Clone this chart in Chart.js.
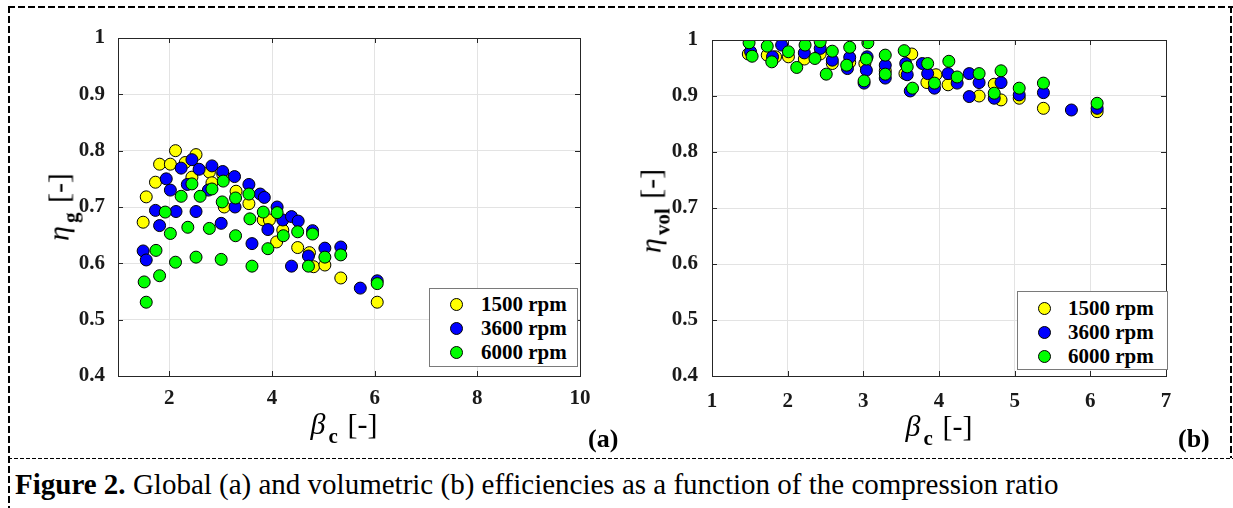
<!DOCTYPE html>
<html>
<head>
<meta charset="utf-8">
<script src="https://cdn.jsdelivr.net/npm/chart.js@4.4.1/dist/chart.umd.min.js"></script>
<style>
  html, body { margin: 0; padding: 0; background: #fff; }
  body { width: 1233px; height: 508px; position: relative; overflow: hidden; font-family: "Liberation Serif", "Times New Roman", serif; color: #000; }
  .panel { position: absolute; top: 0; }
  .dashH { position: absolute; height: 2px; background: repeating-linear-gradient(to right, #000 0 7px, transparent 7px 10px); }
  .dashV { position: absolute; width: 2px; background: repeating-linear-gradient(to bottom, #000 0 7px, transparent 7px 10px); }
  .dashThin { position: absolute; height: 1px; background: repeating-linear-gradient(to right, #000 0 4px, transparent 4px 6px); }
  .xtitle { position: absolute; font-size: 30px; line-height: 34px; white-space: nowrap; transform: translateX(-50%); }
  .ytitle { position: absolute; font-size: 30px; line-height: 34px; white-space: nowrap; transform: translate(-50%, -50%) rotate(-90deg); }
  .xtitle i, .ytitle i { font-style: italic; }
  .sub { font-weight: bold; font-size: 21px; position: relative; top: 9px; margin-left: 3px; margin-right: 2px; }
  .tag { position: absolute; font-weight: bold; font-size: 26px; }
  .legend { position: absolute; border: 1px solid #7a7a7a; background: #fff; box-sizing: border-box; }
  .legend .row { position: absolute; left: 0; height: 24px; line-height: 24px; font-weight: bold; font-size: 21px; white-space: nowrap; }
  .legend .dot { position: absolute; width: 11px; height: 11px; border-radius: 50%; border: 1px solid #000; top: 5.5px; }
  .legend .lbl { position: absolute; top: 0; }
  .caption { position: absolute; left: 15px; top: 468px; font-size: 29px; line-height: 33px; white-space: nowrap; }
</style>
</head>
<body>
<div class="dashH" style="left:8px; top:6px; width:1225px;"></div>
<div class="dashV" style="left:8px; top:6px; height:502px;"></div>
<div class="dashV" style="left:1230px; top:6px; height:452px;"></div>
<div class="dashThin" style="left:8px; top:458px; width:1225px;"></div>

<div class="panel" style="left:0; width:620px; height:460px;"><canvas id="chartA" width="620" height="460"></canvas></div>
<div class="panel" style="left:620px; width:613px; height:460px;"><canvas id="chartB" width="613" height="460"></canvas></div>

<div class="xtitle" style="left:344px; top:407px;"><i>β</i><span class="sub">c</span> [-]</div>
<div class="xtitle" style="left:939px; top:409px;"><i>β</i><span class="sub">c</span> [-]</div>
<div class="ytitle" style="left:60px; top:207px;"><i>η</i><span class="sub">g</span> [-]</div>
<div class="ytitle" style="left:652px; top:211px;"><i>η</i><span class="sub">vol</span> [-]</div>
<div class="tag" style="left:588px; top:424px;">(a)</div>
<div class="tag" style="left:1178px; top:424px;">(b)</div>

<div class="legend" id="legA" style="left:429px; top:288px; width:149px; height:79px;"></div>
<div class="legend" id="legB" style="left:1017px; top:291px; width:151px; height:79px;"></div>

<div class="caption"><b>Figure 2.</b> Global (a) and volumetric (b) efficiencies as a function of the compression ratio</div>

<script>
// ---------- data ----------
const seriesNames = ["1500 rpm", "3600 rpm", "6000 rpm"];
const seriesColors = ["#ffff00", "#0000ff", "#00ff00"];

const xTicksA = [2, 4, 6, 8, 10];
const xTicksB = [1, 2, 3, 4, 5, 6, 7];
const yTicks = [0.4, 0.5, 0.6, 0.7, 0.8, 0.9, 1];
const yTickLabels = ["0.4", "0.5", "0.6", "0.7", "0.8", "0.9", "1"];

// (a) global efficiency
const betaA1500 = [1.49, 1.55, 1.73, 1.81, 2.02, 2.12, 2.31, 2.44, 2.52, 2.78, 2.83, 3.04, 3.07, 3.30, 3.55, 3.83, 3.95, 4.09, 4.21, 4.50, 4.73, 4.81, 5.03, 5.34, 6.05];
const etaG1500 = [0.673, 0.718, 0.744, 0.776, 0.776, 0.800, 0.779, 0.753, 0.793, 0.762, 0.743, 0.758, 0.700, 0.728, 0.706, 0.677, 0.677, 0.638, 0.659, 0.628, 0.619, 0.594, 0.597, 0.574, 0.531];

const betaA3600 = [1.49, 1.55, 1.73, 1.81, 1.94, 2.02, 2.13, 2.23, 2.35, 2.44, 2.52, 2.58, 2.76, 2.83, 3.01, 3.04, 3.27, 3.28, 3.55, 3.61, 3.77, 3.85, 3.92, 4.10, 4.21, 4.38, 4.38, 4.51, 4.71, 4.79, 5.03, 5.34, 5.72, 6.05];
const etaG3600 = [0.622, 0.606, 0.694, 0.667, 0.750, 0.730, 0.692, 0.769, 0.740, 0.784, 0.692, 0.767, 0.730, 0.773, 0.671, 0.763, 0.754, 0.700, 0.740, 0.635, 0.723, 0.717, 0.660, 0.700, 0.677, 0.683, 0.595, 0.675, 0.613, 0.658, 0.627, 0.629, 0.556, 0.569];

const betaA6000 = [1.51, 1.55, 1.74, 1.81, 1.92, 2.02, 2.12, 2.23, 2.36, 2.44, 2.52, 2.60, 2.78, 2.83, 3.01, 3.03, 3.05, 3.29, 3.29, 3.55, 3.57, 3.61, 3.83, 3.92, 4.10, 4.22, 4.50, 4.71, 4.79, 5.03, 5.34, 6.05];
const etaG6000 = [0.567, 0.531, 0.623, 0.578, 0.691, 0.653, 0.602, 0.719, 0.664, 0.741, 0.611, 0.719, 0.662, 0.732, 0.607, 0.709, 0.746, 0.716, 0.649, 0.723, 0.679, 0.595, 0.691, 0.626, 0.690, 0.649, 0.656, 0.595, 0.652, 0.611, 0.615, 0.564];

// (b) volumetric efficiency
const betaB1500 = [1.48, 1.73, 1.84, 2.01, 2.22, 2.43, 2.59, 2.82, 3.02, 3.29, 3.55, 3.64, 3.84, 3.96, 4.12, 4.53, 4.73, 4.82, 5.06, 5.38, 6.09];
const etaV1500 = [0.975, 0.973, 0.970, 0.970, 0.966, 0.975, 0.958, 0.960, 0.958, 0.945, 0.940, 0.975, 0.924, 0.938, 0.920, 0.900, 0.921, 0.893, 0.896, 0.878, 0.872];

const betaB3600 = [1.51, 1.80, 1.92, 2.22, 2.43, 2.59, 2.79, 2.82, 3.01, 3.04, 3.05, 3.29, 3.29, 3.56, 3.58, 3.62, 3.78, 3.85, 3.94, 4.12, 4.24, 4.40, 4.40, 4.53, 4.73, 4.82, 5.06, 5.38, 5.75, 6.09];
const etaV3600 = [0.979, 0.970, 0.991, 0.977, 0.985, 0.964, 0.949, 0.969, 0.923, 0.946, 0.970, 0.955, 0.932, 0.958, 0.938, 0.909, 0.958, 0.940, 0.914, 0.940, 0.923, 0.940, 0.899, 0.924, 0.896, 0.924, 0.902, 0.906, 0.875, 0.878];

const betaB6000 = [1.49, 1.53, 1.73, 1.79, 2.01, 2.12, 2.23, 2.36, 2.43, 2.51, 2.59, 2.78, 2.82, 3.01, 3.04, 3.06, 3.29, 3.29, 3.54, 3.58, 3.65, 3.85, 3.94, 4.13, 4.24, 4.53, 4.73, 4.82, 5.06, 5.38, 6.09];
const etaV6000 = [0.995, 0.971, 0.989, 0.961, 0.979, 0.951, 0.991, 0.967, 0.997, 0.939, 0.980, 0.955, 0.987, 0.927, 0.966, 0.995, 0.973, 0.939, 0.981, 0.952, 0.914, 0.958, 0.923, 0.962, 0.934, 0.940, 0.905, 0.945, 0.914, 0.923, 0.887];

// ---------- helpers ----------
function pts(xs, ys) { return xs.map((x, i) => ({ x: x, y: ys[i] })); }

function makeDatasets(groups) {
  return groups.map((g, i) => ({
    label: seriesNames[i],
    data: pts(g[0], g[1]),
    backgroundColor: seriesColors[i],
    borderColor: "#000",
    borderWidth: 1,
    pointRadius: 6,
    pointHoverRadius: 6,
    order: 2 - i
  }));
}

const boxPlugin = {
  id: "boxPlugin",
  afterDatasetsDraw(chart) {
    const ctx = chart.ctx, a = chart.chartArea;
    const xs = chart.scales.x, ys = chart.scales.y;
    ctx.save();
    ctx.strokeStyle = "#262626";
    ctx.lineWidth = 1;
    ctx.beginPath();
    xs.ticks.forEach(t => {
      const px = Math.round(xs.getPixelForValue(t.value)) + 0.5;
      ctx.moveTo(px, a.bottom); ctx.lineTo(px, a.bottom - 5);
      ctx.moveTo(px, a.top); ctx.lineTo(px, a.top + 5);
    });
    ys.ticks.forEach(t => {
      const py = Math.round(ys.getPixelForValue(t.value)) + 0.5;
      ctx.moveTo(a.left, py); ctx.lineTo(a.left + 5, py);
      ctx.moveTo(a.right, py); ctx.lineTo(a.right - 5, py);
    });
    ctx.stroke();
    ctx.strokeRect(Math.round(a.left) + 0.5, Math.round(a.top) + 0.5, Math.round(a.right - a.left), Math.round(a.bottom - a.top));
    ctx.restore();
  }
};

function makeChart(id, datasets, xmin, xmax, xTicks, area, canvasW, canvasH, xPad, yPad) {
  return new Chart(document.getElementById(id), {
    type: "scatter",
    data: { datasets: datasets },
    options: {
      responsive: false,
      devicePixelRatio: 1,
      animation: false,
      layout: { padding: { top: area.top, right: canvasW - area.right, bottom: 0, left: 0 } },
      plugins: { legend: { display: false }, tooltip: { enabled: false } },
      scales: {
        x: {
          type: "linear", min: xmin, max: xmax,
          afterBuildTicks: s => { s.ticks = xTicks.map(v => ({ value: v })); },
          afterFit: s => { s.height = canvasH - area.bottom; },
          grid: { color: "#e3e3e3", drawTicks: false },
          border: { display: false },
          ticks: { color: "#1a1a1a", padding: xPad, font: { family: "'Liberation Serif'", size: 21, weight: "bold" }, callback: v => String(v) }
        },
        y: {
          type: "linear", min: 0.4, max: 1,
          afterBuildTicks: s => { s.ticks = yTicks.map(v => ({ value: v })); },
          afterFit: s => { s.width = area.left; },
          grid: { color: "#e3e3e3", drawTicks: false },
          border: { display: false },
          ticks: { color: "#1a1a1a", padding: yPad, font: { family: "'Liberation Serif'", size: 21, weight: "bold" },
                   callback: v => { const k = yTicks.findIndex(t => Math.abs(t - v) < 1e-9); return k >= 0 ? yTickLabels[k] : ""; } }
        }
      }
    },
    plugins: [boxPlugin]
  });
}

makeChart("chartA",
  makeDatasets([[betaA1500, etaG1500], [betaA3600, etaG3600], [betaA6000, etaG6000]]),
  1, 10, xTicksA, { left: 118, right: 580, top: 38, bottom: 376 }, 620, 460, 10, 13);

makeChart("chartB",
  makeDatasets([[betaB1500, etaV1500], [betaB3600, etaV3600], [betaB6000, etaV6000]]),
  1, 7, xTicksB, { left: 92, right: 546, top: 40, bottom: 376 }, 613, 460, 13, 14);

// legends
function buildLegend(id, dotLeft, textLeft, rowTops) {
  const el = document.getElementById(id);
  seriesNames.forEach((name, i) => {
    const row = document.createElement("div");
    row.className = "row";
    row.style.top = rowTops[i] + "px";
    row.style.width = "100%";
    const dot = document.createElement("div");
    dot.className = "dot";
    dot.style.left = dotLeft + "px";
    dot.style.background = seriesColors[i];
    const lbl = document.createElement("div");
    lbl.className = "lbl";
    lbl.style.left = textLeft + "px";
    lbl.textContent = name;
    row.appendChild(dot); row.appendChild(lbl);
    el.appendChild(row);
  });
}
buildLegend("legA", 20, 51, [3, 27, 51]);
buildLegend("legB", 20, 50, [4, 28, 52]);
</script>
</body>
</html>
